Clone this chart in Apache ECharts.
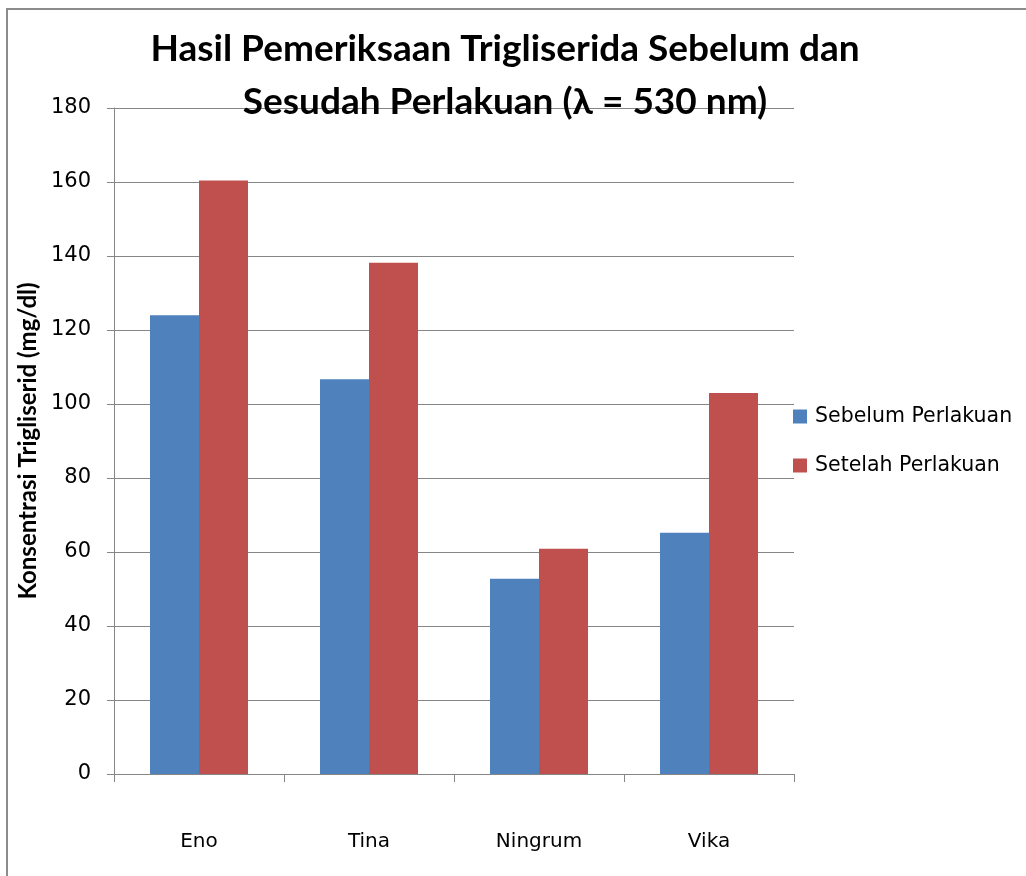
<!DOCTYPE html>
<html>
<head>
<meta charset="utf-8">
<script src="https://cdn.jsdelivr.net/npm/echarts@6/dist/echarts.min.js"></script>
<style>
html,body{margin:0;padding:0;background:#fff;}
#chart{width:1026px;height:876px;}
</style>
</head>
<body>
<div id="chart"></div>
<script>
const categories = ['Eno', 'Tina', 'Ningrum', 'Vika'];
const sebelum = [124, 106.7, 52.8, 65.2];
const setelah = [160.4, 138.2, 60.9, 103];
const seriesNames = ['Sebelum Perlakuan', 'Setelah Perlakuan'];
const yTicks = [0, 20, 40, 60, 80, 100, 120, 140, 160, 180];

const chart = echarts.init(document.getElementById('chart'));
chart.setOption({
  backgroundColor: '#fff',
  animation: false,
  title: {
    text: 'Hasil Pemeriksaan Trigliserida Sebelum dan\nSesudah Perlakuan (λ = 530 nm)',
    left: 500, top: 18, textAlign: 'center',
    textStyle: { fontFamily: 'Lato', fontWeight: 'bold', fontSize: 37, lineHeight: 53, color: '#000' }
  },
  graphic: [{
    type: 'rect', silent: true,
    shape: { x: 7, y: 9, width: 1100, height: 1000 },
    style: { fill: 'none', stroke: '#8c8c8c', lineWidth: 2 }
  }],
  legend: {
    orient: 'vertical', left: 788, top: 401,
    itemWidth: 14, itemHeight: 14, itemGap: 28,
    icon: 'rect',
    textStyle: { fontFamily: 'DejaVu Sans', fontSize: 20.5, color: '#000', padding: [0, 0, 0, 3] },
    data: seriesNames
  },
  grid: { left: 114, right: 232, top: 108, bottom: 102 },
  xAxis: {
    type: 'category', data: categories,
    axisLine: { lineStyle: { color: '#868686', width: 1 } },
    axisTick: { show: true, alignWithLabel: false, length: 8, lineStyle: { color: '#868686' } },
    axisLabel: { margin: 58, fontFamily: 'DejaVu Sans', fontSize: 20, color: '#000' },
    splitLine: { show: false }
  },
  yAxis: {
    type: 'value', min: 0, max: 180, interval: 20,
    name: 'Konsentrasi Trigliserid (mg/dl)', nameLocation: 'middle', nameGap: 71, nameRotate: 90,
    nameTextStyle: { fontFamily: 'Lato', fontWeight: 'bold', fontSize: 24, color: '#000' },
    axisLine: { show: true, lineStyle: { color: '#868686', width: 1 } },
    axisTick: { show: true, inside: false, length: 7, lineStyle: { color: '#868686' } },
    axisLabel: { margin: 23, fontFamily: 'DejaVu Sans', fontSize: 21, color: '#000',
      formatter: v => yTicks.includes(v) ? String(v) : '' },
    splitLine: { show: true, lineStyle: { color: '#868686', width: 1 } }
  },
  series: [
    { name: seriesNames[0], type: 'bar', data: sebelum, barWidth: 49, barGap: '0%',
      itemStyle: { color: '#4F81BD' } },
    { name: seriesNames[1], type: 'bar', data: setelah, barWidth: 49, barGap: '0%',
      itemStyle: { color: '#C0504D' } }
  ]
});
</script>
</body>
</html>
